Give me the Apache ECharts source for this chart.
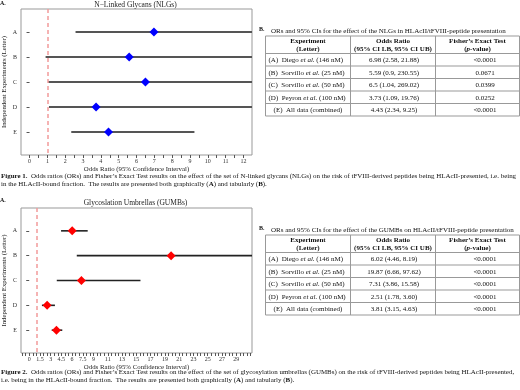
<!DOCTYPE html>
<html><head><meta charset="utf-8">
<script src="https://cdn.jsdelivr.net/npm/echarts@6/dist/echarts.min.js"></script>
<style>html,body{margin:0;padding:0;background:#fff}#c{width:520px;height:390px}</style>
</head><body><div id="c"></div>
<script>
// ---------- data ----------
const letters = ['A', 'B', 'C', 'D', 'E'];
const experimentLabels = ['(A)  Diego et al. (146 nM)', '(B)  Sorvillo et al. (25 nM)', '(C)  Sorvillo et al. (50 nM)', '(D)  Peyron et al. (100 nM)', '(E)  All data (combined)'];

const nlgOR = ['6.98', '5.59', '6.5', '3.73', '4.43'];
const nlgLB = ['2.58', '0.9', '1.04', '1.09', '2.34'];
const nlgUB = ['21.88', '230.55', '269.02', '19.76', '9.25'];
const nlgP  = ['<0.0001', '0.0671', '0.0399', '0.0252', '<0.0001'];

const gumbOR = ['6.02', '19.87', '7.31', '2.51', '3.81'];
const gumbLB = ['4.46', '6.66', '3.86', '1.78', '3.15'];
const gumbUB = ['8.19', '97.62', '15.58', '3.60', '4.63'];
const gumbP  = ['<0.0001', '<0.0001', '<0.0001', '<0.0001', '<0.0001'];

const nlgTickLabels = ['0', '1', '2', '3', '4', '5', '6', '7', '8', '9', '10', '11', '12'];
const gumbTickLabels = ['0', '1.5', '3', '4.5', '6', '7.5', '9', '11', '13', '15', '17', '19', '21', '23', '25', '27', '29'];

const refLine = 1;

// ---------- helpers ----------
const FF = 'Liberation Serif';
const CELL = 7;
function minorTicks(a, b, step) { const r = []; for (let v = a; v <= b + 1e-9; v += step) r.push(+v.toFixed(2)); return r; }

function xAxisCfg(gi, min, max, labels, ticks) {
  return {
    type: 'value', gridIndex: gi, min: min, max: max,
    axisLine: { show: false }, splitLine: { show: false },
    axisTick: { show: true, customValues: ticks, length: 3, lineStyle: { color: '#555', width: 1 } },
    axisLabel: { customValues: labels.map(Number), formatter: v => String(v), fontSize: 6, color: '#333', margin: 3, fontFamily: FF },
    name: 'Odds Ratio (95% Confidence Interval)', nameLocation: 'middle', nameGap: 11,
    nameTextStyle: { fontSize: 6.8, color: '#222', fontFamily: FF }
  };
}
function yAxisCfg(gi) {
  return {
    type: 'value', gridIndex: gi, inverse: true, min: 0.08, max: 5.92,
    axisLine: { show: false }, splitLine: { show: false },
    axisTick: { show: true, customValues: [1, 2, 3, 4, 5], length: 3, lineStyle: { color: '#555', width: 1 } },
    axisLabel: { customValues: [1, 2, 3, 4, 5], formatter: v => letters[Math.round(v) - 1], fontSize: 6, color: '#333', margin: 4, fontFamily: FF },
    name: 'Independent Experiments (Letter)', nameLocation: 'middle', nameRotate: 90, nameGap: 13,
    nameTextStyle: { fontSize: 6.8, color: '#222', fontFamily: FF }
  };
}
function ciSeries(gi, lb, ub, color, width) {
  return {
    type: 'custom', xAxisIndex: gi, yAxisIndex: gi, z: 2, silent: true,
    encode: { x: [0, 1], y: 2 },
    data: lb.map((v, i) => [Number(v), Number(ub[i]), i + 1]),
    renderItem: function (params, api) {
      const cs = params.coordSys;
      const p1 = api.coord([api.value(0), api.value(2)]);
      const p2 = api.coord([api.value(1), api.value(2)]);
      const cl = x => Math.max(cs.x, Math.min(cs.x + cs.width, x));
      return { type: 'line', shape: { x1: cl(p1[0]), y1: p1[1], x2: cl(p2[0]), y2: p2[1] },
        style: { stroke: color, lineWidth: width } };
    }
  };
}
function pointSeries(gi, or, color) {
  return {
    type: 'scatter', xAxisIndex: gi, yAxisIndex: gi, z: 3, silent: true,
    symbol: 'diamond', symbolSize: 9,
    itemStyle: { color: color, opacity: 1 },
    data: or.map((v, i) => [Number(v), i + 1]),
    markLine: { silent: true, symbol: ['none', 'none'], label: { show: false }, animation: false,
      lineStyle: { color: '#f29a9a', type: [4, 3], width: 1.5 }, data: [{ xAxis: refLine }] }
  };
}

function txt(x, y, text, opt) {
  opt = opt || {};
  const s = opt.size || CELL;
  return {
    type: 'text', x: x, y: y, silent: true,
    style: {
      text: text, fill: opt.fill || '#111',
      font: (opt.weight || 'normal') + ' ' + s + 'px "' + FF + '"',
      align: opt.align || 'left', textAlign: opt.align || 'left',
      verticalAlign: 'middle', textVerticalAlign: 'middle',
      rich: { b: { fontWeight: 'bold', fontSize: s, fontFamily: FF },
              i: { fontStyle: 'italic', fontWeight: opt.weight || 'normal', fontSize: s, fontFamily: FF } }
    }
  };
}
function hline(x1, x2, y, c) { return { type: 'line', silent: true, shape: { x1: x1, y1: y, x2: x2, y2: y }, style: { stroke: c || '#999', lineWidth: 1 } }; }
function vline(x, y1, y2, c) { return { type: 'line', silent: true, shape: { x1: x, y1: y1, x2: x, y2: y2 }, style: { stroke: c || '#999', lineWidth: 1 } }; }

function buildTable(top, title, or, lb, ub, p) {
  const els = [];
  const cols = [265.5, 350.5, 435.5, 519.5];
  const headH = 17.5, rowH = 12.5;
  const bottom = top + headH + 5 * rowH;
  els.push(txt(259, top - 7, 'B.', { weight: 'bold', size: 6 }));
  els.push(txt(271, top - 4.5, title, { size: 7 }));
  els.push(hline(cols[0], cols[3], top));
  els.push(hline(cols[0], cols[3], top + headH));
  for (let i = 1; i <= 5; i++) els.push(hline(cols[0], cols[3], top + headH + i * rowH));
  cols.forEach(c => els.push(vline(c, top, bottom)));
  const hb = { weight: 'bold', size: CELL, align: 'center' };
  els.push(txt((cols[0] + cols[1]) / 2, top + 5.5, 'Experiment', hb));
  els.push(txt((cols[0] + cols[1]) / 2, top + 13.5, '(Letter)', hb));
  els.push(txt((cols[1] + cols[2]) / 2, top + 5.5, 'Odds Ratio', hb));
  els.push(txt((cols[1] + cols[2]) / 2, top + 13.5, '(95% CI LB, 95% CI UB)', hb));
  els.push(txt((cols[2] + cols[3]) / 2, top + 5.5, 'Fisher\u2019s Exact Test', hb));
  els.push(txt((cols[2] + cols[3]) / 2, top + 13.5, '({i|p}-value)', hb));
  for (let i = 0; i < 5; i++) {
    const cy = top + headH + i * rowH + rowH / 2 + 0.5;
    const lab = experimentLabels[i].replace('et al.', '{i|et al.}');
    if (i < 4) els.push(txt(cols[0] + 3, cy, lab));
    else els.push(txt((cols[0] + cols[1]) / 2, cy, lab, { align: 'center' }));
    els.push(txt((cols[1] + cols[2]) / 2 + 1, cy, or[i] + ' (' + lb[i] + ', ' + ub[i] + ')', { align: 'center' }));
    els.push(txt(485, cy, p[i], { align: 'center' }));
  }
  return els;
}

const CAP = 6.95;
const graphics = [].concat(
  [txt(0, 3, 'A.', { weight: 'bold', size: 6 }),
   txt(135.5, 5, 'N\u2212Linked Glycans (NLGs)', { size: 7.5, align: 'center', fill: '#222' }),
   txt(0, 200, 'A.', { weight: 'bold', size: 6 }),
   txt(135.5, 203, 'Glycoslation Umbrellas (GUMBs)', { size: 7.5, align: 'center', fill: '#222' }),
   txt(1, 176, '{b|Figure 1.}  Odds ratios (ORs) and Fisher\u2019s Exact Test results on the effect of the set of N-linked glycans (NLGs) on the risk of tFVIII-derived peptides being HLAcII-presented, i.e. being', { size: CAP }),
   txt(1, 184, 'in the HLAcII-bound fraction.  The results are presented both graphically ({b|A}) and tabularly ({b|B}).', { size: CAP }),
   txt(1, 372, '{b|Figure 2.}  Odds ratios (ORs) and Fisher\u2019s Exact Test results on the effect of the set of glycosylation umbrellas (GUMBs) on the risk of tFVIII-derived peptides being HLAcII-presented,', { size: CAP }),
   txt(1, 380, 'i.e. being in the HLAcII-bound fraction.  The results are presented both graphically ({b|A}) and tabularly ({b|B}).', { size: CAP })
  ],
  buildTable(36, 'ORs and 95% CIs for the effect of the NLGs in HLAcII/tFVIII-peptide presentation', nlgOR, nlgLB, nlgUB, nlgP),
  buildTable(235, 'ORs and 95% CIs for the effect of the GUMBs on HLAcII/tFVIII-peptide presentation', gumbOR, gumbLB, gumbUB, gumbP)
);

const chart = echarts.init(document.getElementById('c'), null, { renderer: 'canvas' });
chart.setOption({
  backgroundColor: '#fff',
  animation: false,
  textStyle: { fontFamily: FF },
  grid: [
    { left: 19, top: 9, width: 233, height: 146, show: true, borderColor: '#999', borderWidth: 1, backgroundColor: 'transparent' },
    { left: 19, top: 208, width: 233, height: 145, show: true, borderColor: '#999', borderWidth: 1, backgroundColor: 'transparent' }
  ],
  xAxis: [
    xAxisCfg(0, -0.48, 12.48, nlgTickLabels, minorTicks(0, 12, 0.5)),
    xAxisCfg(1, -1.15, 31.2, gumbTickLabels, minorTicks(-1, 31, 0.5))
  ],
  yAxis: [yAxisCfg(0), yAxisCfg(1)],
  series: [
    ciSeries(0, nlgLB, nlgUB, '#555', 2),
    pointSeries(0, nlgOR, '#0000ff'),
    ciSeries(1, gumbLB, gumbUB, '#222', 1.6),
    pointSeries(1, gumbOR, '#ff0000')
  ],
  graphic: { elements: graphics }
});
</script></body></html>
